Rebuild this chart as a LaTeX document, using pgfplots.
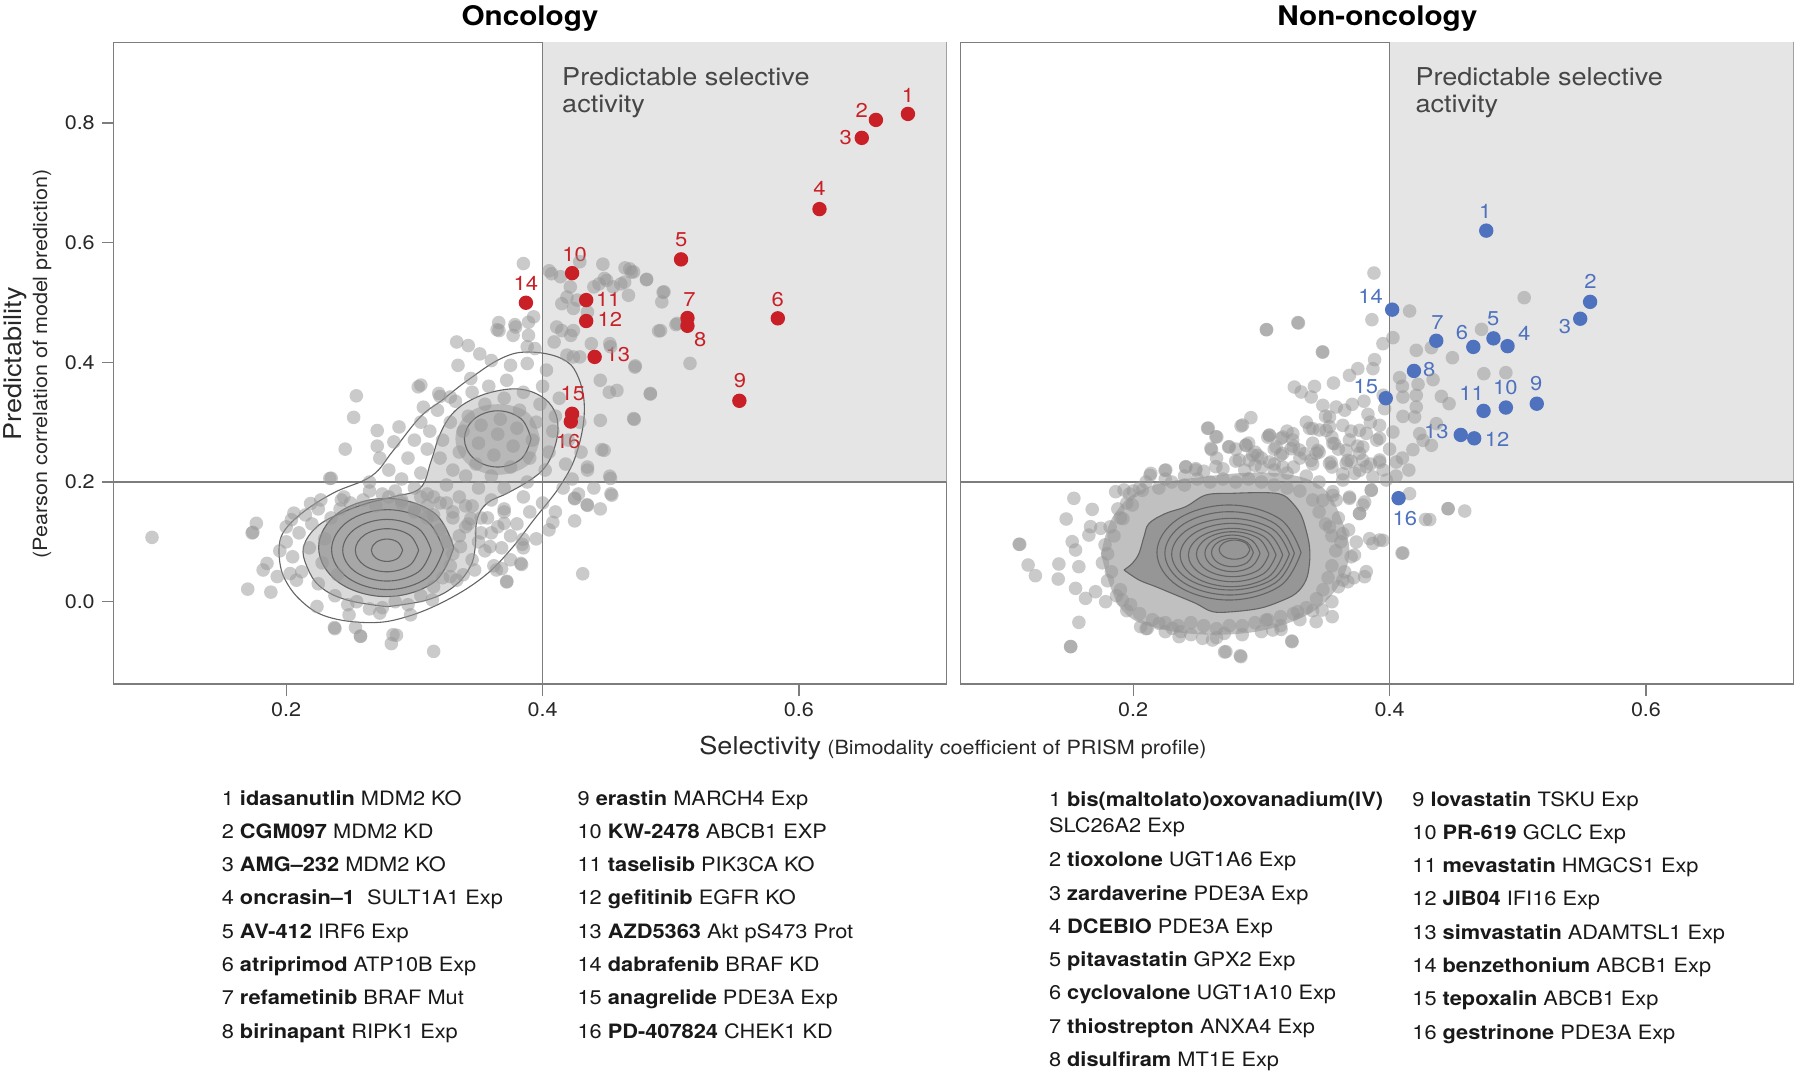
\documentclass[border=0pt]{standalone}
\usepackage{fontspec}
\setmainfont{TeX Gyre Heros}[FakeStretch=1.1]
\usepackage{pgfplots}
\pgfplotsset{compat=1.18}
\definecolor{ptgray}{RGB}{150,150,150}
\definecolor{shade}{RGB}{229,229,229}
\definecolor{axgray}{RGB}{125,125,125}
\definecolor{cont}{RGB}{100,100,100}
\definecolor{onc}{RGB}{200,32,38}
\definecolor{non}{RGB}{78,114,190}
\definecolor{tickc}{RGB}{40,40,40}
\definecolor{txtgray}{RGB}{70,70,70}
\newcommand\tickfont{\fontsize{9.8}{12}\selectfont}
\newcommand\legfont{\fontsize{9.9}{12}\selectfont}
\newcommand\lblfont{\fontsize{10}{12}\selectfont}
\newcommand\bigfont{\fontsize{12.3}{13.6}\selectfont}
\pgfplotsset{
 panel/.style={scale only axis, width=416.3pt, height=320.85pt,
  xmin=0.0655, xmax=0.715, ymin=-0.1375, ymax=0.9347,
  axis line style={axgray, line width=0.6pt},
  tick align=outside, major tick length=6pt,
  tick style={axgray, line width=0.6pt},
  xtick={0.2,0.4,0.6}, xticklabels={0.2,0.4,0.6},
  xtick pos=left, ytick pos=left,
  ticklabel style={font=\tickfont, text=tickc},
  clip=true},
 gpts/.style={only marks, mark=*, mark size=3.4pt, color=ptgray, mark options={fill=ptgray, fill opacity=0.5, draw opacity=0}},
 cline/.style={cont, line width=0.55pt, smooth, tension=0.65, no marks},
 cpts/.style={only marks, mark=*, mark size=3.6pt, color=#1, mark options={fill=#1, draw opacity=0}},
}
\begin{document}
\begin{tikzpicture}
\useasboundingbox (0,0) rectangle (900pt,-537.5pt);
% ================= LEFT PANEL =================
\begin{axis}[panel, at={(56.9pt,-342pt)}, anchor=south west,
  ytick={0,0.2,0.4,0.6,0.8}, yticklabels={0.0,0.2,0.4,0.6,0.8}]
\addplot[fill=shade, draw=none] coordinates {(0.4,0.2) (0.8,0.2) (0.8,1.0) (0.4,1.0)} -- cycle;
% dense cloud fills
\addplot[fill=ptgray, fill opacity=0.35, draw=none, smooth, tension=0.65] coordinates {
(0.2786,-0.0083) (0.2474,0.0028) (0.2266,0.025) (0.2162,0.0585) (0.2136,0.092) (0.224,0.1254) (0.2422,0.1476) (0.263,0.1644) (0.2838,0.1755) (0.3046,0.19) (0.313,0.235) (0.320,0.28) (0.330,0.315) (0.345,0.338) (0.364,0.352) (0.383,0.355) (0.399,0.343) (0.409,0.320) (0.412,0.290) (0.409,0.255) (0.402,0.225) (0.3904,0.2033) (0.3722,0.181) (0.3566,0.1644) (0.3488,0.1365) (0.3475,0.092) (0.3436,0.0585) (0.3306,0.025) (0.3098,0.0028) (0.2786,-0.0083)} -- cycle;
\addplot[fill=ptgray, fill opacity=0.75, draw=none, smooth, tension=0.65] coordinates {
(0.3307,0.0906) (0.3153,0.1486) (0.278,0.1727) (0.2407,0.1486) (0.2253,0.0906) (0.2407,0.0326) (0.278,0.0085) (0.3153,0.0326) (0.3307,0.0906)} -- cycle;
\addplot[fill=ptgray, fill opacity=0.5, draw=none, smooth, tension=0.65] coordinates {
(0.398,0.272) (0.389,0.315) (0.365,0.33) (0.342,0.315) (0.332,0.272) (0.342,0.229) (0.365,0.212) (0.389,0.229) (0.398,0.272)} -- cycle;
% gray points
\addplot[gpts] coordinates {
(0.385,0.565) (0.407,0.548) (0.414,0.543) (0.429,0.568) (0.447,0.564) (0.468,0.556) (0.471,0.551) (0.481,0.538) (0.494,0.517) (0.493,0.501)
(0.444,0.531) (0.450,0.537) (0.455,0.526) (0.461,0.531) (0.464,0.534) (0.467,0.512) (0.440,0.526) (0.4216,0.526) (0.419,0.509) (0.427,0.504)
(0.424,0.490) (0.415,0.498) (0.435,0.484) (0.411,0.459) (0.415,0.453) (0.424,0.453) (0.422,0.445) (0.409,0.434) (0.492,0.453) (0.505,0.465)
(0.438,0.431) (0.453,0.426) (0.419,0.412) (0.429,0.409) (0.424,0.409) (0.472,0.392) (0.445,0.370) (0.452,0.350) (0.458,0.353) (0.484,0.348)
(0.445,0.303) (0.471,0.306) (0.429,0.300) (0.448,0.253) (0.435,0.225) (0.453,0.206) (0.454,0.178) (0.425,0.172) (0.435,0.161) (0.393,0.476)
(0.389,0.467) (0.379,0.459) (0.366,0.453) (0.377,0.445) (0.389,0.445) (0.394,0.423) (0.388,0.426) (0.333,0.434) (0.342,0.428) (0.351,0.414)
(0.334,0.395) (0.305,0.362) (0.360,0.403) (0.375,0.395) (0.388,0.398) (0.403,0.387) (0.344,0.373) (0.319,0.348) (0.328,0.342) (0.307,0.325)
(0.0953,0.1075) (0.2547,0.344) (0.2526,0.308) (0.246,0.255) (0.234,0.206) (0.271,0.286) (0.271,0.260) (0.273,0.240) (0.284,0.267) (0.288,0.292)
(0.303,0.359) (0.320,0.343) (0.1767,0.131) (0.174,0.116) (0.170,0.021) (0.188,0.016) (0.182,0.053) (0.193,0.042) (0.185,0.064) (0.206,0.148)
(0.204,0.137) (0.219,0.164) (0.227,0.170) (0.243,0.170) (0.224,-0.008) (0.238,-0.045) (0.249,-0.022) (0.254,-0.043) (0.258,-0.058) (0.273,-0.019)
(0.282,-0.070) (0.286,-0.056) (0.297,-0.022) (0.315,-0.083) (0.314,0.003) (0.347,0.053) (0.364,0.053) (0.372,0.033) (0.383,0.064) (0.384,0.096)
(0.370,0.131) (0.359,0.092) (0.344,0.139) (0.336,0.092) (0.328,0.042) (0.333,0.036) (0.208,0.036) (0.203,0.047)
(0.4643,0.5578) (0.4693,0.5508) (0.4812,0.5388) (0.4947,0.5178) (0.4905,0.4524) (0.504,0.4629) (0.515,0.3982) (0.4841,0.3469) (0.4715,0.3047) (0.4723,0.394)
(0.4482,0.5402) (0.4524,0.4313) (0.4461,0.2541) (0.4524,0.2098) (0.4533,0.1803) (0.4313,0.0467) (0.4347,0.162) (0.425,0.173) (0.408,0.1325) (0.3848,0.1044)
(0.3836,0.0622) (0.368,0.0552) (0.3721,0.0341) (0.2833,-0.0552) (0.2579,-0.0573) (0.2376,-0.0432) (0.1734,0.1149) (0.2351,0.2063) (0.3645,0.4545) (0.4051,0.5529)
(0.3658,0.4664) (0.3784,0.4629)
(0.305,0.30) (0.312,0.285) (0.318,0.32) (0.322,0.27) (0.328,0.30) (0.332,0.335) (0.335,0.25) (0.338,0.285) (0.342,0.31) (0.345,0.35)
(0.348,0.23) (0.350,0.265) (0.352,0.295) (0.355,0.33) (0.358,0.36) (0.36,0.21) (0.362,0.245) (0.365,0.28) (0.367,0.305) (0.37,0.34)
(0.372,0.37) (0.375,0.225) (0.377,0.26) (0.38,0.29) (0.382,0.32) (0.385,0.35) (0.388,0.20) (0.39,0.24) (0.392,0.27) (0.395,0.30)
(0.398,0.33) (0.40,0.36) (0.402,0.22) (0.405,0.25) (0.408,0.285) (0.41,0.31) (0.413,0.34) (0.416,0.19) (0.418,0.23) (0.42,0.27)
(0.423,0.205) (0.35,0.19) (0.34,0.21) (0.33,0.22) (0.32,0.24) (0.31,0.255) (0.30,0.27) (0.295,0.24) (0.305,0.215) (0.325,0.195)
(0.37,0.19) (0.385,0.175) (0.40,0.165) (0.41,0.15) (0.39,0.15) (0.38,0.13) (0.37,0.155) (0.36,0.17) (0.357,0.14) (0.345,0.16)
(0.335,0.175) (0.32,0.165) (0.31,0.18) (0.30,0.19) (0.29,0.205) (0.28,0.22) (0.285,0.185) (0.43,0.25) (0.435,0.22) (0.428,0.18)
(0.44,0.19) (0.445,0.155) (0.425,0.135) (0.405,0.12) (0.395,0.105) (0.385,0.09) (0.375,0.11) (0.365,0.125) (0.352,0.115) (0.34,0.125)
(0.33,0.14) (0.315,0.145) (0.30,0.155) (0.29,0.17) (0.275,0.18) (0.265,0.20)
(0.20,0.10) (0.205,0.075) (0.21,0.115) (0.212,0.05) (0.218,0.09) (0.22,0.13) (0.225,0.03) (0.228,0.065) (0.23,0.105) (0.235,0.14)
(0.238,0.01) (0.24,0.045) (0.242,0.155) (0.248,-0.005) (0.25,0.165) (0.255,0.0) (0.26,0.17) (0.265,-0.012) (0.27,0.16) (0.275,-0.01)
(0.28,0.175) (0.285,0.0) (0.29,0.165) (0.295,-0.005) (0.30,0.15) (0.305,0.01) (0.31,0.14) (0.315,0.025) (0.32,0.12) (0.322,0.04)
(0.325,0.10) (0.328,0.06) (0.33,0.08) (0.335,0.11) (0.338,0.045) (0.342,0.13) (0.345,0.07) (0.35,0.10) (0.352,0.14) (0.355,0.085)
(0.36,0.115) (0.362,0.06) (0.368,0.09) (0.37,0.15) (0.375,0.07) (0.34,0.16) (0.33,0.15) (0.325,0.165) (0.315,0.175) (0.31,0.16)
(0.305,0.175) (0.20,0.125) (0.195,0.085) (0.215,0.145) (0.225,0.155) (0.245,0.175) (0.265,0.185)
};
% reference lines
\addplot[axgray, line width=0.6pt, no marks] coordinates {(0.4,-0.2) (0.4,1.0)};
\addplot[axgray, line width=0.6pt, no marks] coordinates {(0.0,0.2) (0.8,0.2)};
% contours
\addplot[cline] coordinates {(0.1945,0.0763) (0.198,0.0418) (0.211,0.0028) (0.2318,-0.025) (0.2656,-0.035) (0.2942,-0.025) (0.3254,0.0028) (0.354,0.0418) (0.3748,0.0864) (0.393,0.1365) (0.4144,0.1958) (0.4271,0.252) (0.4326,0.3223) (0.4271,0.3786) (0.4144,0.4067) (0.389,0.4172) (0.3679,0.4067) (0.3425,0.3715) (0.3214,0.3364) (0.3044,0.3083) (0.2833,0.252) (0.2664,0.2098) (0.2368,0.1817) (0.2114,0.1466) (0.1966,0.1114) (0.1945,0.0763)};
\addplot[cline] coordinates {(0.2786,-0.0083) (0.2474,0.0028) (0.2266,0.025) (0.2162,0.0585) (0.2136,0.092) (0.224,0.1254) (0.2422,0.1476) (0.263,0.1644) (0.2838,0.1755) (0.3046,0.19) (0.313,0.235) (0.320,0.28) (0.330,0.315) (0.345,0.338) (0.364,0.352) (0.383,0.355) (0.399,0.343) (0.409,0.320) (0.412,0.290) (0.409,0.255) (0.402,0.225) (0.3904,0.2033) (0.3722,0.181) (0.3566,0.1644) (0.3488,0.1365) (0.3475,0.092) (0.3436,0.0585) (0.3306,0.025) (0.3098,0.0028) (0.2786,-0.0083)};
\addplot[cline] coordinates {(0.391,0.272) (0.3834,0.3052) (0.365,0.319) (0.3466,0.3052) (0.339,0.272) (0.3466,0.2388) (0.365,0.225) (0.3834,0.2388) (0.391,0.272)};
\addplot[cline] coordinates {(0.3307,0.0906) (0.3153,0.1486) (0.278,0.1727) (0.2407,0.1486) (0.2253,0.0906) (0.2407,0.0326) (0.278,0.0085) (0.3153,0.0326) (0.3307,0.0906)};
\addplot[cline] coordinates {(0.3226,0.087) (0.3098,0.1342) (0.279,0.1538) (0.2482,0.1342) (0.2354,0.087) (0.2482,0.0398) (0.279,0.0202) (0.3098,0.0398) (0.3226,0.087)};
\addplot[cline] coordinates {(0.3131,0.086) (0.3030,0.1224) (0.2786,0.1375) (0.2542,0.1224) (0.2441,0.086) (0.2542,0.0496) (0.2786,0.0345) (0.3030,0.0496) (0.3131,0.086)};
\addplot[cline] coordinates {(0.3033,0.086) (0.2961,0.1115) (0.2786,0.122) (0.2611,0.1115) (0.2539,0.086) (0.2611,0.0605) (0.2786,0.05) (0.2961,0.0605) (0.3033,0.086)};
\addplot[cline] coordinates {(0.2908,0.086) (0.2872,0.0992) (0.2786,0.1047) (0.2700,0.0992) (0.2664,0.086) (0.2700,0.0728) (0.2786,0.0673) (0.2872,0.0728) (0.2908,0.086)};
% highlighted compounds
\addplot[cpts=onc] coordinates {(0.685,0.815) (0.660,0.805) (0.649,0.775) (0.616,0.656) (0.508,0.572) (0.5835,0.4735) (0.513,0.474) (0.513,0.461) (0.5535,0.3357) (0.423,0.549) (0.434,0.504) (0.434,0.469) (0.4406,0.409) (0.387,0.4995) (0.423,0.314) (0.422,0.301)};
\begin{scope}[every node/.style={font=\lblfont, text=onc, inner sep=0pt}]
\node at (axis cs:0.685,0.846) {1};
\node at (axis cs:0.649,0.821) {2};
\node at (axis cs:0.6364,0.7757) {3};
\node at (axis cs:0.616,0.69) {4};
\node at (axis cs:0.5082,0.6056) {5};
\node at (axis cs:0.5835,0.505) {6};
\node at (axis cs:0.5146,0.505) {7};
\node at (axis cs:0.523,0.4383) {8};
\node at (axis cs:0.554,0.3694) {9};
\node at (axis cs:0.425,0.5803) {10};
\node at (axis cs:0.4512,0.505) {11};
\node at (axis cs:0.4524,0.4714) {12};
\node at (axis cs:0.4588,0.4123) {13};
\node at (axis cs:0.3869,0.5311) {14};
\node at (axis cs:0.4237,0.347) {15};
\node at (axis cs:0.4199,0.2682) {16};
\end{scope}
\node[anchor=north west, align=left, font=\bigfont, text=txtgray, inner sep=0pt] at (axis cs:0.415,0.893) {Predictable selective\\activity};
\end{axis}
% ================= RIGHT PANEL =================
\begin{axis}[panel, at={(480.4pt,-342pt)}, anchor=south west, ytick=\empty]
\addplot[fill=shade, draw=none] coordinates {(0.4,0.2) (0.8,0.2) (0.8,1.0) (0.4,1.0)} -- cycle;
\addplot[fill=ptgray, fill opacity=0.6, draw=none, smooth, tension=0.65] coordinates {
(0.175,0.08) (0.185,0.145) (0.21,0.19) (0.26,0.21) (0.31,0.215) (0.345,0.195) (0.362,0.14) (0.368,0.07) (0.35,0.0) (0.315,-0.04) (0.27,-0.055) (0.22,-0.045) (0.19,-0.01) (0.175,0.08)} -- cycle;
\addplot[fill=ptgray, draw=none, smooth, tension=0.6] coordinates {
(0.1928,0.053) (0.1993,0.0641) (0.2045,0.0808) (0.2084,0.1087) (0.2124,0.1309) (0.2254,0.1476) (0.241,0.1588) (0.2567,0.1783) (0.2775,0.1811) (0.3036,0.1822) (0.3166,0.1783) (0.3244,0.1644) (0.3309,0.1449) (0.3348,0.1198) (0.3375,0.092) (0.3375,0.0641) (0.3348,0.0363) (0.327,0.014) (0.314,0.0) (0.2984,-0.0111) (0.2775,-0.0167) (0.2619,-0.0167) (0.2488,-0.0028) (0.2332,0.0112) (0.2176,0.0251) (0.2045,0.0363) (0.1928,0.053)} -- cycle;
\addplot[gpts] coordinates {
(0.3878,0.5492) (0.4156,0.4857) (0.3862,0.4712) (0.3289,0.4657) (0.3041,0.4545) (0.505,0.508) (0.4717,0.455) (0.4026,0.4412) (0.3948,0.4311) (0.4208,0.42)
(0.4326,0.4245) (0.449,0.4077) (0.3479,0.4172) (0.3883,0.4044) (0.387,0.3894) (0.3752,0.3894) (0.3687,0.3782) (0.4735,0.381) (0.4907,0.3827) (0.4078,0.3743)
(0.4222,0.3632) (0.4339,0.371) (0.3562,0.3654) (0.3414,0.3598) (0.3257,0.3587) (0.3310,0.3504) (0.3388,0.342) (0.4104,0.342) (0.4208,0.3448) (0.4404,0.3431)
(0.4464,0.3309) (0.4208,0.3253) (0.3479,0.3281) (0.3583,0.3253) (0.3708,0.3298) (0.3831,0.3131) (0.3961,0.3225) (0.4104,0.3097) (0.4195,0.3086) (0.3531,0.3086)
(0.2918,0.3075) (0.2585,0.2902) (0.2841,0.2936) (0.3062,0.278) (0.3167,0.2752) (0.3245,0.2808) (0.3401,0.2891) (0.3505,0.2863) (0.3635,0.2947) (0.3766,0.2863)
(0.3922,0.2947) (0.4026,0.2835) (0.4235,0.2808) (0.4365,0.2975) (0.4261,0.2696) (0.4326,0.2613) (0.4182,0.254) (0.2652,0.2752) (0.2611,0.254) (0.2744,0.2585)
(0.2879,0.2613) (0.2971,0.2446) (0.3114,0.2585) (0.3232,0.2557) (0.3336,0.2473) (0.3440,0.2529) (0.357,0.264) (0.3661,0.2529) (0.3791,0.2585) (0.3674,0.2362)
(0.3791,0.2362) (0.3922,0.2334) (0.4052,0.2334) (0.3544,0.2334) (0.3388,0.2362) (0.241,0.225) (0.2488,0.2223) (0.2131,0.2111) (0.2248,0.2195) (0.2071,0.1861)
(0.3166,0.225) (0.3062,0.2334) (0.2905,0.2362) (0.3635,0.2139) (0.3766,0.2195) (0.387,0.2084) (0.4156,0.1805) (0.3857,0.1861) (0.3557,0.1777) (0.3687,0.1749)
(0.3805,0.1666) (0.3766,0.1471) (0.4313,0.1371) (0.4456,0.1554) (0.4456,0.1554) (0.4586,0.1515) (0.3844,0.1053) (0.3948,0.1025) (0.3740,0.0997) (0.4104,0.0814)
(0.3531,0.1248) (0.3635,0.1137) (0.3479,0.1694)
(0.1115,0.0959) (0.1537,0.1727) (0.1477,0.1382) (0.168,0.1543) (0.118,0.0613) (0.1237,0.0435) (0.142,0.063) (0.1415,0.0379) (0.1524,0.1003) (0.155,0.0864)
(0.1576,0.0585) (0.155,0.0223) (0.1628,0.0056) (0.1576,-0.0345) (0.1511,-0.0751) (0.1706,0.0167) (0.1785,0.0) (0.1915,0.0028) (0.1667,0.1254) (0.1746,0.1226)
(0.1654,0.1114) (0.1863,0.1838) (0.1928,0.1866) (0.1993,0.1616) (0.1920,0.1387) (0.2058,-0.0417) (0.2110,-0.0445) (0.2202,-0.0362) (0.2306,-0.0445) (0.2371,-0.05)
(0.2358,-0.0584) (0.2541,-0.0612) (0.2619,-0.064) (0.2710,-0.0529) (0.2723,-0.0835) (0.284,-0.0918) (0.3088,-0.0473) (0.3153,-0.0462) (0.3239,-0.0668) (0.3036,-0.0306)
(0.3283,-0.0167) (0.3427,-0.0334) (0.3473,-0.0139) (0.3552,-0.025) (0.3635,0.0362) (0.3674,0.0334) (0.3805,0.0418) (0.3818,0.0502) (0.3726,0.078) (0.3922,0.1031)
(0.3870,0.0975) (0.3583,0.1699) (0.3687,0.1727) (0.3792,0.1616) (0.3765,0.1476) (0.3857,0.1866) (0.3557,0.1838) (0.3635,0.2033) (0.3726,0.2145) (0.3818,0.2256)
(0.3765,0.2479) (0.3922,0.2368) (0.3974,0.2033)
(0.258,0.2897) (0.2645,0.2757) (0.2606,0.2563) (0.2749,0.259) (0.2853,0.2952) (0.2879,0.2618) (0.2931,0.2451) (0.3062,0.2785) (0.3153,0.273) (0.3244,0.2702)
(0.3375,0.2897) (0.3453,0.2869) (0.3531,0.2925) (0.3557,0.2646) (0.3687,0.2702) (0.3818,0.2813) (0.3922,0.273) (0.3166,0.2479) (0.3296,0.2535) (0.3427,0.2479)
(0.3531,0.2312) (0.3661,0.2312) (0.2827,0.2368) (0.241,0.2256) (0.2488,0.22) (0.2137,0.2145) (0.2254,0.22) (0.2645,0.2256)
(0.3038,0.4545) (0.3284,0.4664) (0.3475,0.4172) (0.111,0.096) (0.1513,-0.0749) (0.2835,-0.0903) (0.2712,-0.084) (0.3237,-0.0657) (0.428,0.1374) (0.4097,0.0812)
(0.18,0.08) (0.185,0.11) (0.183,0.05) (0.19,0.14) (0.19,0.02) (0.195,0.165) (0.198,-0.005) (0.20,0.185) (0.205,-0.02) (0.21,0.20)
(0.215,-0.03) (0.22,0.19) (0.225,-0.035) (0.23,0.2) (0.235,-0.04) (0.24,0.195) (0.245,-0.035) (0.25,0.205) (0.255,-0.04) (0.26,0.2)
(0.265,-0.045) (0.27,0.205) (0.275,-0.04) (0.28,0.2) (0.285,-0.04) (0.29,0.205) (0.295,-0.035) (0.30,0.2) (0.305,-0.03) (0.31,0.195)
(0.315,-0.025) (0.32,0.19) (0.325,-0.02) (0.33,0.185) (0.335,-0.01) (0.34,0.17) (0.343,0.005) (0.345,0.15) (0.348,0.02) (0.35,0.13)
(0.352,0.04) (0.355,0.11) (0.355,0.06) (0.358,0.085) (0.36,0.14) (0.362,0.1) (0.365,0.05) (0.368,0.12) (0.37,0.075) (0.345,0.2)
(0.335,0.21) (0.32,0.215) (0.31,0.22) (0.30,0.225) (0.287,0.22) (0.27,0.222) (0.255,0.218) (0.24,0.21) (0.225,0.205) (0.205,0.19)
(0.197,0.18) (0.188,0.155) (0.182,0.125) (0.178,0.095) (0.176,0.065) (0.18,0.035) (0.187,0.01) (0.195,-0.015) (0.21,-0.045) (0.225,-0.05)
(0.245,-0.055) (0.265,-0.06) (0.285,-0.055) (0.30,-0.05) (0.315,-0.04) (0.33,-0.03) (0.34,-0.015) (0.355,0.0) (0.36,0.025) (0.372,0.04)
(0.30,0.24) (0.315,0.245) (0.33,0.24) (0.345,0.25) (0.36,0.255) (0.375,0.26) (0.39,0.27) (0.385,0.30) (0.37,0.285) (0.355,0.275)
(0.34,0.265) (0.325,0.26) (0.31,0.255) (0.295,0.25) (0.28,0.235) (0.265,0.24) (0.40,0.255) (0.41,0.24) (0.415,0.22) (0.405,0.21)
(0.395,0.22) (0.385,0.23) (0.37,0.235) (0.355,0.225) (0.34,0.23) (0.325,0.225) (0.31,0.23) (0.295,0.228) (0.28,0.255) (0.29,0.265)
(0.305,0.275) (0.32,0.285) (0.335,0.3) (0.35,0.31) (0.365,0.32) (0.38,0.335) (0.395,0.345) (0.41,0.36)
};
\addplot[axgray, line width=0.6pt, no marks] coordinates {(0.4,-0.2) (0.4,1.0)};
\addplot[axgray, line width=0.6pt, no marks] coordinates {(0.0,0.2) (0.8,0.2)};
\addplot[cline, tension=0.6] coordinates {(0.1928,0.053) (0.1993,0.0641) (0.2045,0.0808) (0.2084,0.1087) (0.2124,0.1309) (0.2254,0.1476) (0.241,0.1588) (0.2567,0.1783) (0.2775,0.1811) (0.3036,0.1822) (0.3166,0.1783) (0.3244,0.1644) (0.3309,0.1449) (0.3348,0.1198) (0.3375,0.092) (0.3375,0.0641) (0.3348,0.0363) (0.327,0.014) (0.314,0.0) (0.2984,-0.0111) (0.2775,-0.0167) (0.2619,-0.0167) (0.2488,-0.0028) (0.2332,0.0112) (0.2176,0.0251) (0.2045,0.0363) (0.1928,0.053)};
\addplot[cline] coordinates {(0.3309,0.0822) (0.3144,0.1383) (0.2747,0.1616) (0.2350,0.1383) (0.2185,0.0822) (0.2350,0.0261) (0.2747,0.0028) (0.3144,0.0261) (0.3309,0.0822)};
\addplot[cline] coordinates {(0.3257,0.0808) (0.3109,0.1300) (0.2752,0.1504) (0.2395,0.1300) (0.2247,0.0808) (0.2395,0.0316) (0.2752,0.0112) (0.3109,0.0316) (0.3257,0.0808)};
\addplot[cline] coordinates {(0.3218,0.0794) (0.3084,0.1217) (0.2759,0.1393) (0.2434,0.1217) (0.2300,0.0794) (0.2434,0.0371) (0.2759,0.0195) (0.3084,0.0371) (0.3218,0.0794)};
\addplot[cline] coordinates {(0.3166,0.078) (0.3049,0.1154) (0.2766,0.1309) (0.2483,0.1154) (0.2366,0.078) (0.2483,0.0406) (0.2766,0.0251) (0.3049,0.0406) (0.3166,0.078)};
\addplot[cline] coordinates {(0.3114,0.078) (0.3014,0.1095) (0.2772,0.1226) (0.2530,0.1095) (0.2430,0.078) (0.2530,0.0465) (0.2772,0.0334) (0.3014,0.0465) (0.3114,0.078)};
\addplot[cline] coordinates {(0.3059,0.0794) (0.2976,0.106) (0.2776,0.117) (0.2576,0.106) (0.2493,0.0794) (0.2576,0.0528) (0.2776,0.0418) (0.2976,0.0528) (0.3059,0.0794)};
\addplot[cline] coordinates {(0.2989,0.0808) (0.2926,0.1024) (0.2774,0.1114) (0.2622,0.1024) (0.2559,0.0808) (0.2622,0.0592) (0.2774,0.0502) (0.2926,0.0592) (0.2989,0.0808)};
\addplot[cline] coordinates {(0.2937,0.0822) (0.2889,0.099) (0.2774,0.1059) (0.2659,0.099) (0.2611,0.0822) (0.2659,0.0654) (0.2774,0.0585) (0.2889,0.0654) (0.2937,0.0822)};
\addplot[cline] coordinates {(0.291,0.087) (0.2875,0.0983) (0.279,0.103) (0.2705,0.0983) (0.267,0.087) (0.2705,0.0757) (0.279,0.071) (0.2875,0.0757) (0.291,0.087)};
\addplot[cpts=non] coordinates {(0.4754,0.620) (0.5564,0.501) (0.5487,0.4728) (0.492,0.427) (0.481,0.44) (0.4653,0.4257) (0.4364,0.436) (0.419,0.3856) (0.5148,0.3308) (0.4907,0.3244) (0.4733,0.3188) (0.466,0.273) (0.4555,0.2787) (0.402,0.488) (0.397,0.34) (0.407,0.173)};
\begin{scope}[every node/.style={font=\lblfont, text=non, inner sep=0pt}]
\node at (axis cs:0.4746,0.6513) {1};
\node at (axis cs:0.5568,0.5346) {2};
\node at (axis cs:0.5369,0.4594) {3};
\node at (axis cs:0.5051,0.4475) {4};
\node at (axis cs:0.4809,0.4721) {5};
\node at (axis cs:0.4564,0.4503) {6};
\node at (axis cs:0.4373,0.4664) {7};
\node at (axis cs:0.4309,0.3877) {8};
\node at (axis cs:0.5144,0.3645) {9};
\node at (axis cs:0.4903,0.3575) {10};
\node at (axis cs:0.464,0.3483) {11};
\node at (axis cs:0.4839,0.2717) {12};
\node at (axis cs:0.4364,0.2837) {13};
\node at (axis cs:0.3852,0.5093) {14};
\node at (axis cs:0.3814,0.3589) {15};
\node at (axis cs:0.4119,0.1395) {16};
\end{scope}
\node[anchor=north west, align=left, font=\bigfont, text=txtgray, inner sep=0pt] at (axis cs:0.4199,0.893) {Predictable selective\\activity};
\end{axis}
% ================= TITLES AND LABELS =================
\node[anchor=base, font=\fontsize{13.5}{16}\selectfont\bfseries, inner sep=0pt] at (265pt,-13pt) {Oncology};
\node[anchor=base, font=\fontsize{13.5}{16}\selectfont\bfseries, inner sep=0pt] at (688.7pt,-13pt) {Non-oncology};
\node[rotate=90, font=\bigfont, text=tickc, inner sep=0pt] at (7.5pt,-182pt) {Predictability};
\node[rotate=90, font=\tickfont, text=tickc, inner sep=0pt] at (21pt,-182pt) {(Pearson correlation of model prediction)};
\node[anchor=base, inner sep=0pt, text=tickc] at (476.5pt,-377pt) {{\bigfont Selectivity} {\tickfont (Bimodality coefficient of PRISM profile)}};
% ================= LEGENDS =================
\begin{scope}[every node/.style={anchor=base west, inner sep=0pt, font=\legfont, text=black!90}]
\node at (110.7pt,-402.5pt) {1 \textbf{idasanutlin} MDM2 KO};
\node at (110.7pt,-419.15pt) {2 \textbf{CGM097} MDM2 KD};
\node at (110.7pt,-435.8pt) {3 \textbf{AMG–232} MDM2 KO};
\node at (110.7pt,-452.45pt) {4 \textbf{oncrasin–1}\ \ SULT1A1 Exp};
\node at (110.7pt,-469.1pt) {5 \textbf{AV-412} IRF6 Exp};
\node at (110.7pt,-485.75pt) {6 \textbf{atriprimod} ATP10B Exp};
\node at (110.7pt,-502.4pt) {7 \textbf{refametinib} BRAF Mut};
\node at (110.7pt,-519.05pt) {8 \textbf{birinapant} RIPK1 Exp};
\node at (288.6pt,-402.5pt) {9 \textbf{erastin} MARCH4 Exp};
\node at (288.6pt,-419.15pt) {10 \textbf{KW-2478} ABCB1 EXP};
\node at (288.6pt,-435.8pt) {11 \textbf{taselisib} PIK3CA KO};
\node at (288.6pt,-452.45pt) {12 \textbf{gefitinib} EGFR KO};
\node at (288.6pt,-469.1pt) {13 \textbf{AZD5363} Akt pS473 Prot};
\node at (288.6pt,-485.75pt) {14 \textbf{dabrafenib} BRAF KD};
\node at (288.6pt,-502.4pt) {15 \textbf{anagrelide} PDE3A Exp};
\node at (288.6pt,-519.05pt) {16 \textbf{PD-407824} CHEK1 KD};
\node at (524.3pt,-403pt) {1 \textbf{bis(maltolato)oxovanadium(IV)}};
\node at (524.3pt,-416.35pt) {SLC26A2 Exp};
\node at (524.3pt,-433.35pt) {2 \textbf{tioxolone} UGT1A6 Exp};
\node at (524.3pt,-450pt) {3 \textbf{zardaverine} PDE3A Exp};
\node at (524.3pt,-466.65pt) {4 \textbf{DCEBIO} PDE3A Exp};
\node at (524.3pt,-483.3pt) {5 \textbf{pitavastatin} GPX2 Exp};
\node at (524.3pt,-499.95pt) {6 \textbf{cyclovalone} UGT1A10 Exp};
\node at (524.3pt,-516.6pt) {7 \textbf{thiostrepton} ANXA4 Exp};
\node at (524.3pt,-533.25pt) {8 \textbf{disulfiram} MT1E Exp};
\node at (706pt,-403pt) {9 \textbf{lovastatin} TSKU Exp};
\node at (706pt,-419.65pt) {10 \textbf{PR-619} GCLC Exp};
\node at (706pt,-436.3pt) {11 \textbf{mevastatin} HMGCS1 Exp};
\node at (706pt,-452.95pt) {12 \textbf{JIB04} IFI16 Exp};
\node at (706pt,-469.6pt) {13 \textbf{simvastatin} ADAMTSL1 Exp};
\node at (706pt,-486.25pt) {14 \textbf{benzethonium} ABCB1 Exp};
\node at (706pt,-502.9pt) {15 \textbf{tepoxalin} ABCB1 Exp};
\node at (706pt,-519.55pt) {16 \textbf{gestrinone} PDE3A Exp};
\end{scope}
\end{tikzpicture}
\end{document}
